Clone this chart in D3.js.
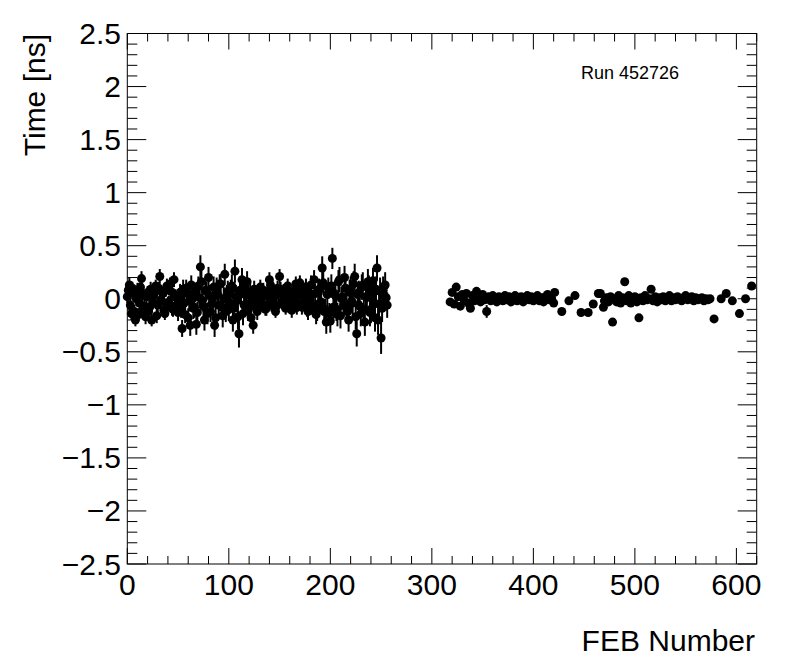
<!DOCTYPE html>
<meta charset="utf-8">
<style>
body { margin: 0; background: #fff; }
svg { display: block; }
.tick-label { font: 30px "Liberation Sans", Arial, sans-serif; fill: #000; }
.axis-title { font: 30px "Liberation Sans", Arial, sans-serif; fill: #000; }
.run-label { font: 18px "Liberation Sans", Arial, sans-serif; fill: #000; }
</style>
<svg width="796" height="672"></svg>
<script src="https://d3js.org/d3.v7.min.js"></script>
<script>

// FEB numbers, time offsets [ns] and their errors
var febLeft = [0,2,4,6,8,10,12,14,16,18,20,22,24,26,28,30,32,34,36,38,40,42,44,46,48,
  50,52,54,56,58,60,62,64,66,68,70,72,74,76,78,80,82,84,86,88,90,92,94,96,98,
  100,102,104,106,108,110,112,114,116,118,120,122,124,126,128,130,132,134,136,138,
  140,142,144,146,148,150,152,154,156,158,160,162,164,166,168,170,172,174,176,178,
  180,182,184,186,188,190,192,194,196,198,200,202,204,206,208,210,212,214,216,218,
  220,222,224,226,228,230,232,234,236,238,240,242,244,246,248,250,252,254,256];
var timeLeft = [0.02,0.13,-0.14,0.05,-0.20,0.08,-0.04,0.19,-0.10,-0.17,0.06,-0.08,-0.20,0.03,0.12,-0.06,0.21,-0.02,-0.11,0.08,-0.05,0.14,-0.09,0.18,0.01,
  -0.13,0.06,-0.28,-0.04,0.10,-0.18,-0.25,0.04,-0.08,-0.24,0.12,0.30,-0.02,-0.20,0.07,0.20,-0.12,0.00,-0.25,0.10,-0.06,0.14,-0.16,0.23,0.03,
  -0.10,0.08,-0.20,0.26,-0.02,-0.33,0.05,-0.14,0.10,0.16,-0.05,-0.18,-0.25,0.04,-0.12,0.06,-0.04,0.08,-0.10,0.02,
  0.18,-0.06,0.05,-0.12,0.10,0.21,-0.03,0.07,-0.09,0.12,0.00,-0.11,0.06,0.14,-0.05,0.15,-0.08,0.03,0.11,-0.12,
  0.05,-0.06,0.18,-0.15,0.08,-0.04,0.29,-0.12,-0.22,0.10,-0.21,0.38,0.05,-0.10,0.16,-0.16,0.02,0.20,-0.08,-0.20,
  0.09,-0.04,0.21,-0.33,0.06,-0.14,0.13,-0.22,0.01,0.10,-0.10,0.17,-0.18,0.29,-0.05,-0.37,0.08,0.13,-0.06];
var errLeft = [0.06,0.07,0.06,0.07,0.06,0.07,0.06,0.07,0.06,0.07,0.06,0.07,0.06,0.07,0.06,0.07,0.07,0.06,0.07,0.06,0.07,0.06,0.07,0.07,0.06,
  0.08,0.08,0.08,0.09,0.08,0.09,0.10,0.09,0.10,0.10,0.09,0.11,0.10,0.10,0.09,0.10,0.10,0.09,0.11,0.10,0.10,0.09,0.11,0.10,0.10,
  0.11,0.10,0.11,0.11,0.10,0.13,0.10,0.11,0.10,0.10,0.10,0.09,0.08,0.08,0.08,0.07,0.07,0.07,0.06,0.07,
  0.07,0.06,0.07,0.06,0.07,0.07,0.06,0.07,0.06,0.07,0.06,0.07,0.06,0.07,0.07,0.07,0.07,0.07,0.08,0.08,
  0.08,0.09,0.09,0.09,0.10,0.10,0.11,0.10,0.11,0.10,0.11,0.10,0.11,0.11,0.11,0.12,0.11,0.11,0.12,0.11,
  0.12,0.11,0.12,0.12,0.11,0.12,0.12,0.13,0.12,0.12,0.13,0.12,0.13,0.12,0.13,0.15,0.13,0.12,0.12];

// odd-numbered FEBs of the first block (they fill the dense core)
var febLeftOdd = [1,3,5,7,9,11,13,15,17,19,21,23,25,27,29,31,33,35,37,39,41,43,45,47,49,
  51,53,55,57,59,61,63,65,67,69,71,73,75,77,79,81,83,85,87,89,91,93,95,97,99,
  101,103,105,107,109,111,113,115,117,119,121,123,125,127,129,131,133,135,137,139,141,143,145,147,149,
  151,153,155,157,159,161,163,165,167,169,171,173,175,177,179,181,183,185,187,189,191,193,195,197,199,
  201,203,205,207,209,211,213,215,217,219,221,223,225,227,229,231,233,235,237,239,241,243,245,247,249,251,253,255];
var timeLeftOdd = [0.08,-0.06,0.10,-0.12,0.00,-0.15,0.11,0.04,-0.07,0.02,-0.12,0.09,-0.03,0.06,-0.16,0.10,-0.01,0.05,-0.14,0.12,-0.03,0.07,-0.10,0.03,-0.06,
  0.02,-0.10,0.09,-0.15,0.05,-0.02,0.13,-0.09,0.06,-0.13,0.01,0.16,-0.07,0.08,-0.14,0.03,-0.05,0.11,-0.18,0.04,0.14,-0.08,0.00,-0.12,0.07,
  -0.04,0.12,-0.09,0.02,-0.17,0.08,0.18,-0.06,0.03,-0.11,0.06,-0.02,0.09,-0.08,0.01,0.11,-0.05,0.04,-0.09,0.07,0.13,-0.03,0.02,-0.07,0.05,
  0.09,-0.05,0.01,0.10,-0.06,0.04,-0.02,0.08,-0.08,0.03,0.11,-0.04,0.06,-0.09,0.02,0.13,-0.07,0.05,-0.11,0.09,-0.03,0.15,-0.10,0.04,-0.14,
  0.12,-0.08,0.03,-0.15,0.18,0.00,-0.06,0.10,-0.12,0.06,-0.02,0.14,-0.17,0.04,-0.07,0.11,-0.10,0.02,0.16,-0.13,0.05,-0.04,0.09,-0.20,0.07,-0.09,0.03,0.01];
var errLeftOdd = [0.06,0.07,0.06,0.06,0.07,0.06,0.07,0.06,0.06,0.07,0.06,0.07,0.06,0.06,0.07,0.06,0.07,0.06,0.06,0.07,0.06,0.07,0.07,0.06,0.07,
  0.08,0.08,0.09,0.08,0.09,0.10,0.09,0.10,0.09,0.10,0.10,0.11,0.10,0.09,0.10,0.10,0.09,0.10,0.11,0.10,0.09,0.10,0.11,0.10,0.10,
  0.10,0.11,0.10,0.11,0.12,0.10,0.11,0.10,0.11,0.10,0.09,0.09,0.08,0.08,0.07,0.07,0.07,0.06,0.07,0.06,0.07,0.06,0.07,0.06,0.07,
  0.07,0.06,0.07,0.06,0.07,0.06,0.07,0.06,0.07,0.07,0.07,0.07,0.08,0.08,0.08,0.09,0.09,0.09,0.10,0.10,0.10,0.11,0.10,0.11,0.10,
  0.11,0.11,0.10,0.11,0.12,0.11,0.11,0.12,0.11,0.12,0.11,0.12,0.12,0.11,0.12,0.12,0.13,0.12,0.12,0.13,0.12,0.13,0.12,0.14,0.13,0.13,0.12,0.12];

var febRight = [318,320,322,324,326,328,330,332,334,336,338,340,342,344,346,348,350,352,354,356,
  358,360,362,364,366,368,370,372,374,376,378,380,382,384,386,388,390,392,394,396,
  398,400,402,404,406,408,410,412,414,416,418,420,421,428,435,441,447,454,459,464,
  466,469,470,472,474,476,478,480,482,484,486,488,490,492,494,496,498,500,502,504,
  506,508,510,512,514,516,518,520,522,524,526,528,530,532,534,536,538,540,542,544,
  546,548,550,552,554,556,558,560,562,564,566,568,570,572,574,578,585,590,596,603,609,615];
var timeRight = [-0.03,0.06,-0.05,0.11,0.02,-0.07,0.04,-0.02,0.05,-0.04,-0.09,0.03,-0.02,0.07,0.01,-0.03,0.04,-0.01,-0.12,0.02,
  -0.02,0.03,0.00,-0.03,0.02,0.01,-0.02,0.03,-0.01,0.02,-0.03,0.01,0.03,-0.02,0.00,0.02,-0.03,0.01,0.03,-0.01,
  0.02,-0.02,0.00,0.03,-0.02,0.01,-0.03,0.02,0.04,-0.01,0.00,-0.04,0.06,-0.12,-0.02,0.03,-0.13,-0.13,-0.05,0.05,
  0.05,-0.08,-0.02,0.01,-0.03,0.02,-0.22,0.00,-0.03,0.03,-0.04,0.01,0.16,-0.02,0.03,-0.04,0.00,0.02,-0.03,-0.18,
  0.01,-0.02,0.03,-0.01,0.00,0.09,-0.02,0.02,-0.03,0.01,-0.01,0.02,-0.02,0.00,0.03,-0.02,0.01,-0.01,0.02,0.00,
  -0.02,0.01,0.03,-0.01,0.00,0.02,-0.02,0.01,-0.01,0.00,0.01,-0.02,0.00,-0.01,0.00,-0.19,0.00,0.05,-0.02,-0.14,0.00,0.12];
var errRight = [0.03,0.03,0.03,0.03,0.02,0.03,0.02,0.02,0.03,0.02,0.03,0.02,0.02,0.03,0.02,0.02,0.02,0.02,0.06,0.02,
  0.02,0.02,0.02,0.02,0.02,0.02,0.02,0.02,0.02,0.02,0.02,0.02,0.02,0.02,0.02,0.02,0.02,0.02,0.02,0.02,
  0.02,0.02,0.02,0.02,0.02,0.02,0.02,0.02,0.02,0.02,0.02,0.02,0.02,0.02,0.02,0.02,0.02,0.02,0.02,0.02,
  0.02,0.02,0.02,0.02,0.02,0.02,0.03,0.02,0.02,0.02,0.02,0.02,0.03,0.02,0.02,0.02,0.02,0.02,0.02,0.02,
  0.02,0.02,0.02,0.02,0.02,0.02,0.02,0.02,0.02,0.02,0.02,0.02,0.02,0.02,0.02,0.02,0.02,0.02,0.02,0.02,
  0.02,0.02,0.02,0.02,0.02,0.02,0.02,0.02,0.02,0.02,0.02,0.02,0.02,0.02,0.02,0.02,0.02,0.02,0.02,0.02,0.02,0.02];

var xTicks = [0,100,200,300,400,500,600];
var yTicks = [-2.5,-2,-1.5,-1,-0.5,0,0.5,1,1.5,2,2.5];
var runLabel = "Run 452726";

var svg = d3.select("svg");

var x0 = 127.3, x1 = 756.7, y0 = 564, y1 = 33.5;

var x = d3.scaleLinear().domain([0, 620]).range([x0, x1]);
var y = d3.scaleLinear().domain([-2.5, 2.5]).range([y0, y1]);

function fmt(v) {
  return (v < 0 ? "\u2212" : "") + String(Math.abs(v));
}

// ticks on all four sides, root style
var g = svg.append("g");
var xMinor = d3.range(0, 621, 20);
var yMinor = d3.range(-25, 26).map(function(d) { return d / 10; });

function xTick(v, len) {
  g.append("line").attr("x1", x(v)).attr("x2", x(v)).attr("y1", y0).attr("y2", y0 - len).attr("stroke", "#000");
  g.append("line").attr("x1", x(v)).attr("x2", x(v)).attr("y1", y1).attr("y2", y1 + len).attr("stroke", "#000");
}
function yTick(v, len) {
  g.append("line").attr("y1", y(v)).attr("y2", y(v)).attr("x1", x0).attr("x2", x0 + len).attr("stroke", "#000");
  g.append("line").attr("y1", y(v)).attr("y2", y(v)).attr("x1", x1).attr("x2", x1 - len).attr("stroke", "#000");
}
xMinor.forEach(function(v) { xTick(v, v % 100 === 0 ? 16 : 8); });
yMinor.forEach(function(v) { yTick(v, Math.abs(Math.round(v * 10)) % 5 === 0 ? 19 : 10); });

g.append("rect").attr("x", x0).attr("y", y1).attr("width", x1 - x0).attr("height", y0 - y1)
  .attr("fill", "none").attr("stroke", "#000").attr("stroke-width", 1);

g.selectAll(".xl").data(xTicks).enter().append("text")
  .attr("class", "tick-label")
  .attr("x", function(d) { return x(d); })
  .attr("y", 595)
  .attr("text-anchor", "middle")
  .text(fmt);

g.selectAll(".yl").data(yTicks).enter().append("text")
  .attr("class", "tick-label")
  .attr("x", 121)
  .attr("y", function(d) { return y(d) + 10.5; })
  .attr("text-anchor", "end")
  .text(fmt);

svg.append("text").attr("class", "axis-title")
  .attr("x", 755).attr("y", 651).attr("text-anchor", "end").text("FEB Number");

svg.append("text").attr("class", "axis-title")
  .attr("transform", "translate(45,34) rotate(-90)")
  .attr("text-anchor", "end").text("Time [ns]");

svg.append("text").attr("class", "run-label")
  .attr("x", 581).attr("y", 79).text(runLabel);

// points with error bars
var pts = [];
febLeft.forEach(function(f, i) { pts.push({feb: f, t: timeLeft[i], e: errLeft[i]}); });
febLeftOdd.forEach(function(f, i) { pts.push({feb: f, t: timeLeftOdd[i], e: errLeftOdd[i]}); });
febRight.forEach(function(f, i) { pts.push({feb: f, t: timeRight[i], e: errRight[i]}); });

var pg = svg.append("g");
pg.selectAll("line").data(pts).enter().append("line")
  .attr("x1", function(d) { return x(d.feb); })
  .attr("x2", function(d) { return x(d.feb); })
  .attr("y1", function(d) { return y(d.t - d.e); })
  .attr("y2", function(d) { return y(d.t + d.e); })
  .attr("stroke", "#000").attr("stroke-width", 2);

pg.selectAll("circle").data(pts).enter().append("circle")
  .attr("cx", function(d) { return x(d.feb); })
  .attr("cy", function(d) { return y(d.t); })
  .attr("r", 4.5)
  .attr("fill", "#000");

</script>
